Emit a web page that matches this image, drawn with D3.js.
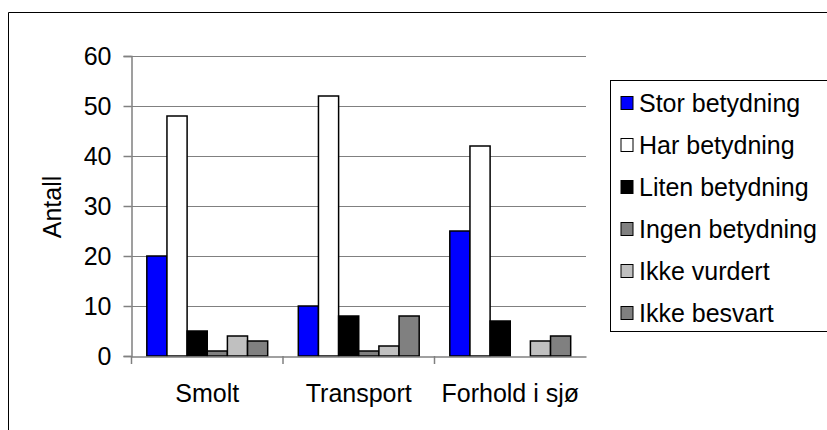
<!DOCTYPE html>
<html><head><meta charset="utf-8">
<script src="https://cdn.jsdelivr.net/npm/d3@7"></script>
<style>body{margin:0;background:#fff}svg{display:block;font-family:"Liberation Sans",Arial,sans-serif}</style>
</head><body><svg id="c" width="827" height="430"></svg>
<script>
const categories = ["Smolt", "Transport", "Forhold i sjø"];
const seriesNames = ["Stor betydning", "Har betydning", "Liten betydning", "Ingen betydning", "Ikke vurdert", "Ikke besvart"];
const seriesColors = ["#0000ff", "#ffffff", "#000000", "#808080", "#c0c0c0", "#808080"];
const stor = [20, 10, 25];
const har = [48, 52, 42];
const liten = [5, 8, 7];
const ingen = [1, 1, 0];
const vurdert = [4, 2, 3];
const besvart = [3, 8, 4];
const yTicks = [0, 10, 20, 30, 40, 50, 60];
const series = [stor, har, liten, ingen, vurdert, besvart];

const FONT = "Liberation Sans, Arial, sans-serif";
const FS = 25;
const svg = d3.select("#c");
// outer frame
svg.append("path").attr("d", "M8.5,430 V12.5 H827").attr("fill", "none").attr("stroke", "#000").attr("stroke-width", 1);

const L = 131.5, R = 586, T = 56, B = 356;
const x0 = d3.scaleBand().domain(categories).range([L, R]).paddingInner(0).paddingOuter(0);
const x1 = d3.scaleBand().domain(d3.range(series.length)).range([0, x0.bandwidth()]).paddingOuter(0.76).paddingInner(0);
const y = d3.scaleLinear().domain([0, 60]).range([B, T]);

// gridlines
svg.append("g").selectAll("line").data(yTicks.filter(d => d > 0)).join("line")
  .attr("x1", L).attr("x2", R).attr("y1", d => Math.round(y(d)) + 0.5).attr("y2", d => Math.round(y(d)) + 0.5)
  .attr("stroke", "#808080").attr("stroke-width", 1);

// y axis
const ya = svg.append("g").attr("transform", `translate(${L},0)`)
  .call(d3.axisLeft(y).tickValues(yTicks).tickSize(8).tickPadding(12));
ya.attr("font-size", null).attr("font-family", null);
ya.select(".domain").attr("stroke", "#808080").attr("stroke-width", 1.5);
ya.selectAll(".tick line").attr("stroke", "#808080").attr("stroke-width", 1.5);
ya.selectAll("text").style("font-size", FS + "px").attr("fill", "#000").style("font-family", FONT);

// bars
const g = svg.append("g");
categories.forEach((c, ci) => {
  series.forEach((s, si) => {
    const v = s[ci];
    if (v <= 0) return;
    g.append("rect")
      .attr("x", x0(c) + x1(si))
      .attr("y", y(v))
      .attr("width", x1.bandwidth())
      .attr("height", B - y(v))
      .attr("fill", seriesColors[si])
      .attr("stroke", "#000").attr("stroke-width", 1.5);
  });
});

// x axis
const xa = svg.append("g").attr("transform", `translate(0,${B + 0.5})`)
  .call(d3.axisBottom(x0).tickSize(0).tickPadding(28));
xa.attr("font-size", null).attr("font-family", null);
xa.select(".domain").attr("stroke", "#808080").attr("stroke-width", 1.5);
xa.selectAll("text").style("font-size", FS + "px").attr("fill", "#000").style("font-family", FONT);
const bounds = [L, ...categories.map(c => x0(c) + x0.bandwidth())];
svg.append("g").selectAll("line").data(bounds.slice(0, 3)).join("line")
  .attr("x1", d => d).attr("x2", d => d).attr("y1", B).attr("y2", B + 8)
  .attr("stroke", "#808080").attr("stroke-width", 1.5);

// y title
svg.append("text").attr("transform", "translate(61,207) rotate(-90)")
  .attr("text-anchor", "middle").style("font-size", FS + "px").style("font-family", FONT).text("Antall");

// legend
const lg = svg.append("g");
lg.append("rect").attr("x", 610.5).attr("y", 80.5).attr("width", 230).attr("height", 251)
  .attr("fill", "#fff").attr("stroke", "#000").attr("stroke-width", 1);
seriesNames.forEach((n, i) => {
  const cy = 103 + i * 42;
  lg.append("rect").attr("x", 621).attr("y", cy - 6.5).attr("width", 12).attr("height", 13)
    .attr("fill", seriesColors[i]).attr("stroke", "#000").attr("stroke-width", 1);
  lg.append("text").attr("x", 639).attr("y", cy).attr("dy", "0.35em")
    .style("font-size", FS + "px").style("font-family", FONT).text(n);
});
</script></body></html>
